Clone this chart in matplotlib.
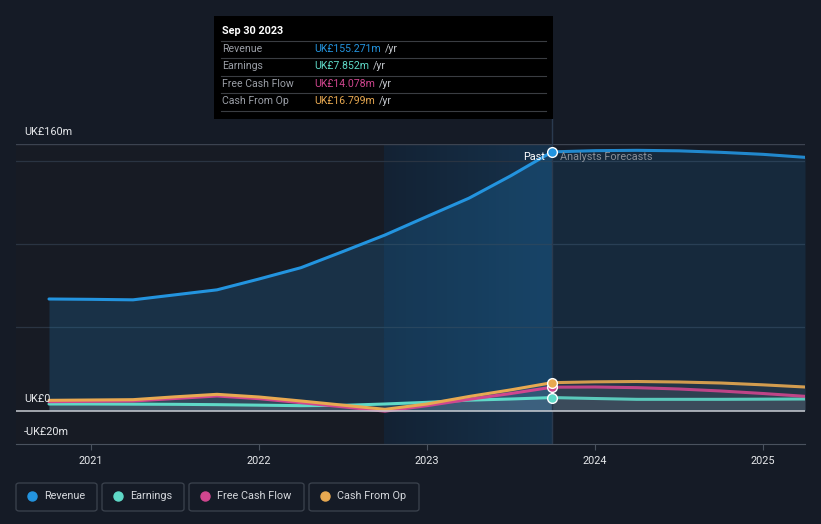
import matplotlib
matplotlib.use("Agg")
import numpy as np
import matplotlib.pyplot as plt
from matplotlib.patches import Rectangle, FancyBboxPatch
from matplotlib.lines import Line2D

plt.rcParams['font.family'] = ['Roboto', 'DejaVu Sans']

# ---------------- data (UK£ m, decimal years) ----------------
past_t = [2020.75, 2021.0, 2021.25, 2021.5, 2021.75, 2022.0, 2022.25, 2022.5,
          2022.75, 2023.0, 2023.25, 2023.5, 2023.744]
fc_t = [2023.744, 2024.0, 2024.25, 2024.5, 2024.75, 2025.0, 2025.25]

revenue_past = [67.0, 66.8, 66.5, 69.5, 72.5, 79.0, 85.8, 95.5, 105.4, 116.5, 127.5, 141.0, 155.271]
revenue_fc = [155.271, 156.0, 156.2, 155.9, 155.0, 153.8, 152.0]

earnings_past = [4.0, 4.0, 3.9, 3.8, 3.6, 3.3, 3.0, 3.2, 4.0, 5.0, 6.3, 7.0, 7.852]
earnings_fc = [7.852, 7.3, 6.8, 6.8, 6.8, 6.9, 7.0]

fcf_past = [5.4, 5.6, 5.8, 7.3, 8.8, 7.2, 4.8, 2.3, -0.3, 3.0, 6.8, 10.3, 14.078]
fcf_fc = [14.078, 14.2, 13.8, 13.0, 11.8, 10.3, 8.6]

cfo_past = [6.2, 6.4, 6.6, 8.3, 9.8, 8.2, 5.8, 3.3, 0.8, 4.0, 8.5, 12.5, 16.799]
cfo_fc = [16.799, 17.3, 17.5, 17.2, 16.6, 15.5, 14.2]

series_names = ["Revenue", "Earnings", "Free Cash Flow", "Cash From Op"]
series_colors = ["#2394df", "#5fd9c7", "#d0468f", "#e8a951"]
tooltip_values = ["UK£155.271m", "UK£7.852m", "UK£14.078m", "UK£16.799m"]
tooltip_date = "Sep 30 2023"
year_ticks = [2021, 2022, 2023, 2024, 2025]
y_labels = {160: "UK£160m", 0: "UK£0", -20: "-UK£20m"}

# ---------------- figure ----------------
W, H = 821, 524
BG = "#151b26"
fig = plt.figure(figsize=(W / 100, H / 100), dpi=100, facecolor=BG)


def fx(x):
    return x / W


def fy(y):
    return 1 - y / H


ax_left, ax_right, ax_top, ax_bottom = 16, 805, 144, 444
ax = fig.add_axes([fx(ax_left), fy(ax_bottom), fx(ax_right - ax_left), (ax_bottom - ax_top) / H])
ax.set_facecolor(BG)
x0 = 2021 - (91 - ax_left) / 168.0
x1 = 2021 + (ax_right - 91) / 168.0
ax.set_xlim(x0, x1)
ax.set_ylim(-20, 160)
for s in ax.spines.values():
    s.set_visible(False)

now = past_t[-1]
hl_start = now - 1.0
# background regions
ax.axvspan(x0, hl_start, color="#171b24", zorder=0, lw=0)
c_left = np.array([19, 34, 52]) / 255.0
c_right = np.array([22, 50, 76]) / 255.0
grad = np.linspace(0, 1, 64)
img = (c_left[None, :] * (1 - grad[:, None]) + c_right[None, :] * grad[:, None])[None, :, :]
ax.imshow(img, extent=[hl_start, now, -20, 160], aspect="auto", zorder=0.5, interpolation="bilinear")
ax.set_xlim(x0, x1)
ax.set_ylim(-20, 160)

# gridlines
for g in [50, 100, 150]:
    ax.axhline(g, color="#2a3442", lw=0.9, zorder=1)
ax.axhline(160, color="#3c4350", lw=1.0, zorder=1)
ax.axhline(0, color="#c8ccd2", lw=1.1, zorder=6)

# revenue fill
ax.fill_between(past_t, revenue_past, 0, color="#2394df", alpha=0.19, lw=0, zorder=2)
ax.fill_between(fc_t, revenue_fc, 0, color="#2394df", alpha=0.12, lw=0, zorder=2)

all_t = past_t + fc_t[1:]
small = [(earnings_past, earnings_fc), (fcf_past, fcf_fc), (cfo_past, cfo_fc)]
for (p, f) in small:
    ax.fill_between(all_t, p + f[1:], 0, color="#ffffff", alpha=0.06, lw=0, zorder=2)

# lines
data = [(revenue_past, revenue_fc), (earnings_past, earnings_fc), (fcf_past, fcf_fc), (cfo_past, cfo_fc)]
order = [1, 2, 3, 0]
for i in order:
    p, f = data[i]
    ax.plot(past_t, p, color=series_colors[i], lw=2.2, zorder=4 + (i == 0), solid_capstyle="round",
            solid_joinstyle="round")
    ax.plot(fc_t, f, color=series_colors[i], lw=2.2, zorder=4 + (i == 0), alpha=0.9, solid_capstyle="round",
            solid_joinstyle="round")
for i in [1, 2, 3, 0]:
    p, f = data[i]
    ax.plot([now], [p[-1]], marker="o", ms=7, mfc=series_colors[i], mec="white", mew=1.0, zorder=8)

ax.axvline(now, color="#2a3a4f", lw=1.0, zorder=3)

ax.text(now - 0.04, 152.5, "Past", color="white", fontsize=7.8, ha="right", va="center", zorder=9)
ax.text(now + 0.05, 152.5, "Analysts Forecasts", color="#8a9099", fontsize=7.8, ha="left", va="center", zorder=9)

# x ticks
ax.set_xticks(year_ticks)
ax.set_xticklabels([str(y) for y in year_ticks])
ax.tick_params(axis="x", colors="#4a525e", length=4, width=0.8, labelcolor="#e6e8eb", labelsize=7.8, pad=5)
ax.tick_params(axis="y", left=False, labelleft=False)
ax.spines["bottom"].set_visible(True)
ax.spines["bottom"].set_color("#4a525e")

# y labels
for v, lab in y_labels.items():
    ax.text((24 - ax_left) / (ax_right - ax_left), v + 7.3, lab, transform=ax.get_yaxis_transform(),
            color="#e6e8eb", fontsize=7.8, ha="left", va="center", zorder=9)

# vertical line up to tooltip
fig.add_artist(Line2D([fx(552), fx(552)], [fy(119), fy(ax_top)], color="#2a3a4f", lw=1.0))

# ---------------- tooltip ----------------
fig.add_artist(Rectangle((fx(214), fy(119)), fx(553 - 214), (119 - 16) / H, facecolor="#000000",
                         edgecolor="none", zorder=10))
fig.text(fx(222), fy(31), tooltip_date, color="white", fontsize=7.8, fontweight="bold", va="center", zorder=11)
row_y = [49, 66, 84, 101]
for yy in [41, 58, 76, 93, 111]:
    fig.add_artist(Line2D([fx(221), fx(546)], [fy(yy), fy(yy)], color="#3a3d42", lw=0.8, zorder=11))
fig.canvas.draw()
for i, name in enumerate(series_names):
    fig.text(fx(222), fy(row_y[i]), name, color="#9a9ea6", fontsize=7.6, va="center", zorder=11)
    t = fig.text(fx(314), fy(row_y[i]), tooltip_values[i], color=series_colors[i], fontsize=7.6,
                 va="center", zorder=11)
    bb = t.get_window_extent(renderer=fig.canvas.get_renderer())
    fig.text(bb.x1 / W + fx(4), fy(row_y[i]), "/yr", color="#c4c7cc", fontsize=7.6, va="center", zorder=11)

# ---------------- legend ----------------
boxes = [(16, 97), (102, 184), (189, 304), (309, 419)]
for i, name in enumerate(series_names):
    a, b = boxes[i]
    fig.add_artist(FancyBboxPatch((fx(a), fy(511)), fx(b - a), 28 / H,
                                  boxstyle="round,pad=0,rounding_size=0.004",
                                  facecolor="none", edgecolor="#3c434e", lw=0.9))
    fig.add_artist(Line2D([fx(a + 16)], [fy(496)], marker="o", ms=6.5, color=series_colors[i], lw=0))
    fig.text(fx(a + 28), fy(496), name, color="#d4d7dc", fontsize=7.8, va="center")

fig.savefig("out.png", dpi=100, facecolor=BG)
